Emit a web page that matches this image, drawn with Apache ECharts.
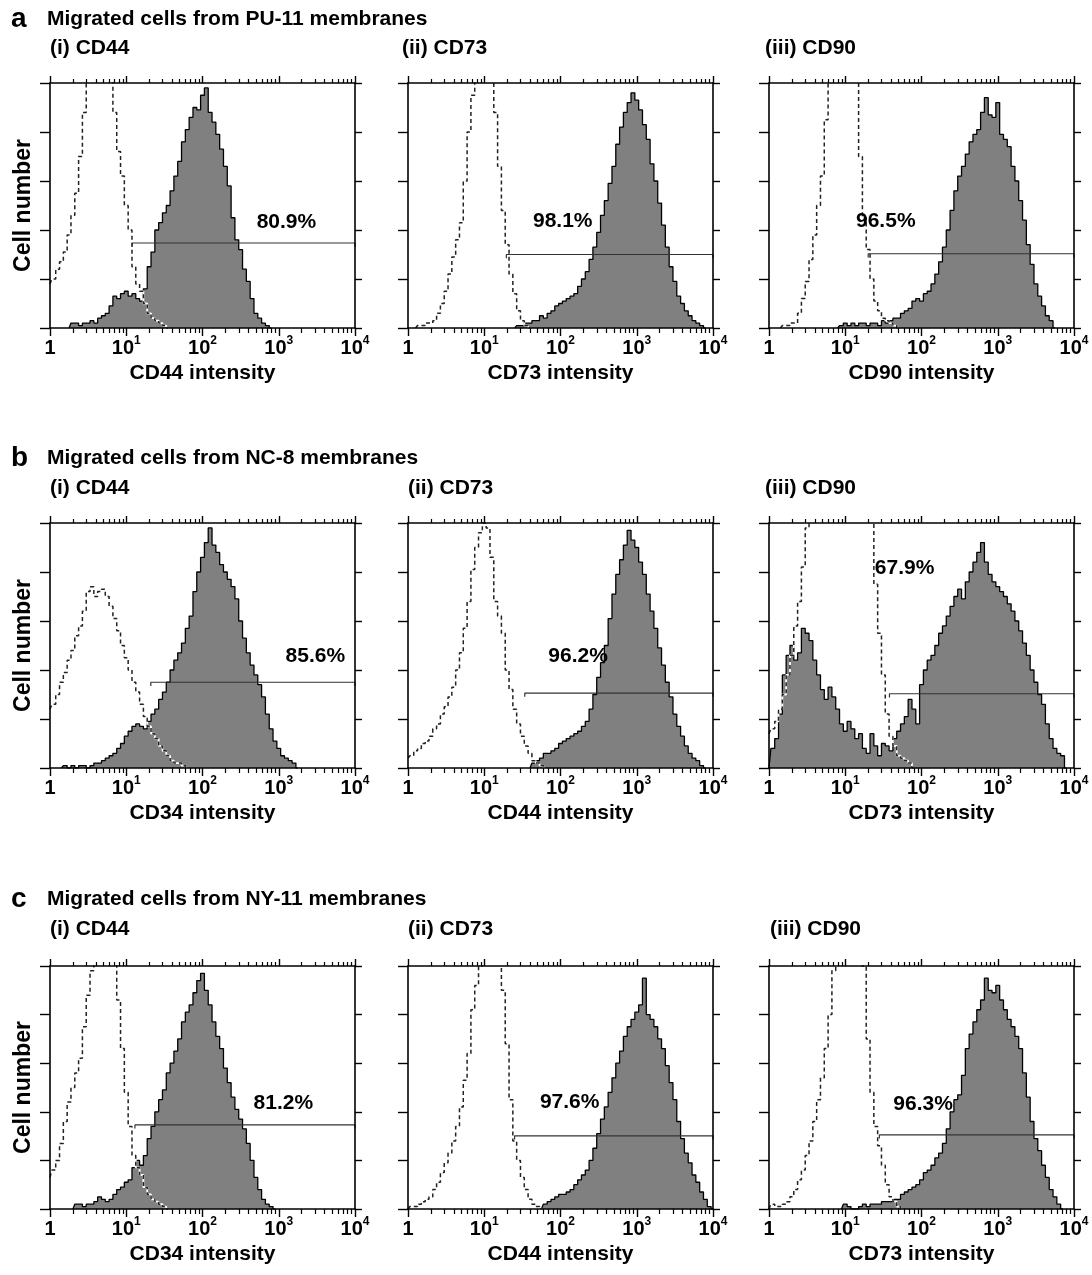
<!DOCTYPE html>
<html>
<head>
<meta charset="utf-8">
<script src="https://cdn.jsdelivr.net/npm/echarts@6/dist/echarts.min.js"></script>
<style>
html, body { margin: 0; background: #fff; }
#main { width: 1092px; height: 1275px; }
</style>
</head>
<body>
<div id="main"></div>
<script>
// histogram channels are 0.05 decade wide; each curve starts at the given exponent
var BIN = 0.05;

// a: PU-11
var puCD44 = [0,2,2,1,2,2,3,2,4,5,6,9,13,12,14,15,13,14,12,11,16,25,31,40,43,47,50,56,62,68,76,81,86,90,89,95,98,88,84,79,73,66,58,45,36,32,24,19,12,6,4,2,1,0];
var puCD44Start = 0.25;
var puCD44Iso = [18,20,24,27,31,38,46,55,70,88,105,130,130,130,130,125,108,88,72,62,50,40,25,18,15,10,6,4,3,2,1,0];
var puCD44IsoStart = 0;
var puCD73 = [0,1,1,2,2,3,3,5,4,6,7,9,10,11,12,13,14,17,20,23,28,33,39,46,52,59,66,75,82,88,92,96,93,89,83,77,67,60,51,42,33,25,19,13,10,7,5,3,2,1,0];
var puCD73Start = 1.40;
var puCD73Iso = [0,1,1,2,2,3,6,10,15,22,29,36,43,60,80,95,120,130,130,130,125,88,66,48,34,22,14,7,3,1,0];
var puCD73IsoStart = 0.10;
var puCD90 = [0,1,2,1,2,1,2,2,1,2,2,1,3,2,3,4,4,6,7,8,11,12,11,14,15,18,22,27,33,40,48,56,62,66,71,76,79,81,88,94,87,86,92,79,77,74,66,60,52,44,34,26,18,13,9,5,3,0];
var puCD90Start = 0.90;
var puCD90Iso = [0,1,1,2,2,6,12,19,28,38,50,62,85,110,130,130,130,130,130,130,110,70,45,32,20,11,7,4,3,2,1,0];
var puCD90IsoStart = 0.15;

// b: NC-8
var ncCD34 = [0,1,0,1,0,1,1,0,1,2,2,3,4,5,6,8,10,13,15,17,18,17,16,19,22,24,28,31,35,40,44,47,51,57,62,72,80,86,92,98,91,88,83,80,77,74,69,60,53,47,42,38,34,29,22,16,11,8,5,4,3,2,0];
var ncCD34Start = 0.15;
var ncCD34Iso = [24,26,30,35,39,44,48,54,58,64,72,74,70,72,73,70,66,61,56,50,45,40,35,31,26,21,17,14,12,9,7,5,3,2,2,1,0];
var ncCD34IsoStart = 0;
var ncCD44 = [0,2,3,4,6,6,7,8,10,11,12,13,14,15,17,19,24,30,37,43,50,61,71,79,85,91,97,93,90,84,79,71,64,57,49,42,35,29,22,17,13,9,6,4,3,1,0];
var ncCD44Start = 1.60;
var ncCD44Iso = [4,5,7,8,10,11,13,16,18,22,25,29,33,40,47,57,68,81,90,96,100,98,86,68,62,55,40,32,24,18,13,9,6,3,2,1,0];
var ncCD44IsoStart = 0;
var ncCD73 = [0,8,12,22,38,46,50,44,47,57,55,52,44,38,32,28,33,29,24,18,15,19,16,12,14,8,6,14,9,5,10,9,7,12,15,18,21,28,24,18,34,40,44,46,50,55,58,62,66,70,73,69,76,80,84,88,92,84,79,76,74,72,70,67,64,60,56,51,46,40,35,30,26,18,12,8,6,5,0];
var ncCD73Start = 0;
var ncCD73Iso = [14,16,19,24,30,38,46,58,68,82,98,130,130,130,130,130,130,130,130,130,130,130,130,130,130,130,130,110,75,55,38,22,13,9,5,4,3,2,0];
var ncCD73IsoStart = 0;

// c: NY-11
var nyCD34 = [0,2,2,1,2,2,3,5,4,3,4,6,8,9,11,12,17,20,18,22,29,34,40,45,49,56,60,65,70,77,81,84,89,94,97,90,84,77,71,66,58,52,46,41,37,33,27,20,13,8,4,2,1,0];
var nyCD34Start = 0.30;
var nyCD34Iso = [13,16,20,27,36,44,50,56,62,75,88,98,120,130,130,130,130,110,86,66,48,34,22,17,14,9,6,4,3,2,1,0];
var nyCD34IsoStart = 0;
var nyCD44 = [0,2,3,4,5,6,6,7,8,10,12,14,16,20,25,31,37,42,48,54,60,65,71,75,78,81,84,95,80,78,75,70,66,59,52,45,36,29,23,19,14,11,7,4,1,0];
var nyCD44Start = 1.75;
var nyCD44Iso = [0,1,1,2,3,4,5,8,11,15,19,23,28,34,42,53,64,82,92,100,130,130,130,130,120,90,68,45,28,20,13,8,4,2,1,0];
var nyCD44IsoStart = 0;
var nyCD73 = [0,2,1,0,0,1,2,1,2,2,2,3,3,3,4,4,6,7,8,9,10,12,15,16,18,21,23,27,33,40,45,47,55,66,72,77,82,86,95,90,89,92,86,82,78,75,71,66,56,46,36,29,24,18,13,8,5,2,0];
var nyCD73Start = 0.95;
var nyCD73Iso = [0,2,1,1,2,3,5,8,12,16,22,28,36,45,54,66,80,98,130,130,130,130,130,130,130,100,70,48,34,26,18,10,5,3,1,0];
var nyCD73IsoStart = 0;

var rowLetters = ['a', 'b', 'c'];
var rowTitles = ['Migrated cells from PU-11 membranes', 'Migrated cells from NC-8 membranes', 'Migrated cells from NY-11 membranes'];
var panelTitles = ['(i) CD44', '(ii) CD73', '(iii) CD90'];
var xNames = [
    ['CD44 intensity', 'CD73 intensity', 'CD90 intensity'],
    ['CD34 intensity', 'CD44 intensity', 'CD73 intensity'],
    ['CD34 intensity', 'CD44 intensity', 'CD73 intensity']
];
var percents = ['80.9%', '98.1%', '96.5%', '85.6%', '96.2%', '67.9%', '81.2%', '97.6%', '96.3%'];
var gateFrom = [12, 19.5, 20, 21, 34, 38, 13, 25, 28];
var gateLevel = [34.7, 30, 30.3, 35, 30.6, 30.3, 34.6, 30.1, 30.5];
var pctAtX = [1260, 107, 34, 3020, 170, 60, 1150, 132, 105];
var pctAtY = [43, 43.5, 43.5, 45.5, 45.5, 81.6, 43.5, 44, 43];
var decadeTicks = [1, 10, 100, 1000, 10000];
var minorTicks = [2,3,4,5,6,7,8,9,20,30,40,50,60,70,80,90,200,300,400,500,600,700,800,900,2000,3000,4000,5000,6000,7000,8000,9000];

var stained = [puCD44, puCD73, puCD90, ncCD34, ncCD44, ncCD73, nyCD34, nyCD44, nyCD73];
var stainedStart = [puCD44Start, puCD73Start, puCD90Start, ncCD34Start, ncCD44Start, ncCD73Start, nyCD34Start, nyCD44Start, nyCD73Start];
var isotype = [puCD44Iso, puCD73Iso, puCD90Iso, ncCD34Iso, ncCD44Iso, ncCD73Iso, nyCD34Iso, nyCD44Iso, nyCD73Iso];
var isotypeStart = [puCD44IsoStart, puCD73IsoStart, puCD90IsoStart, ncCD34IsoStart, ncCD44IsoStart, ncCD73IsoStart, nyCD34IsoStart, nyCD44IsoStart, nyCD73IsoStart];

var FONT = '"Liberation Sans", Arial, Helvetica, sans-serif';
var gridLeft = [50, 408, 769];
var gridTop = [83, 523, 966];
var gridH = [245, 245, 243];
var subX = [[50, 402, 765], [50, 408, 765], [50, 408, 770]];
var headY = [19, 458, 899];
var subY = [48, 488, 929];

function toPoints(counts, start) {
    return counts.map(function (c, i) {
        return [Math.pow(10, start + i * BIN), c];
    });
}

var grids = [], xAxes = [], yAxes = [], series = [], texts = [];

for (var g = 0; g < 9; g++) {
    var r = Math.floor(g / 3), c = g % 3;
    grids.push({ left: gridLeft[c], top: gridTop[r], width: 305, height: gridH[r] });

    var logBase = { type: 'log', logBase: 10, min: 1, max: 10000, gridIndex: g, splitLine: { show: false } };
    // bottom, decades with labels
    xAxes.push(Object.assign({}, logBase, {
        position: 'bottom', z: 5,
        name: xNames[r][c], nameLocation: 'middle', nameGap: 35,
        nameTextStyle: { fontFamily: FONT, fontWeight: 'bold', fontSize: 21, color: '#000' },
        axisLine: { lineStyle: { color: '#000', width: 1.6 } },
        axisTick: { customValues: decadeTicks, length: 8, lineStyle: { color: '#000', width: 1.4 } },
        axisLabel: {
            customValues: decadeTicks, margin: 7,
            formatter: function (v) {
                var e = Math.round(Math.log10(v));
                return e === 0 ? '{n|1}' : '{n|10}{s|' + e + '}';
            },
            rich: {
                n: { fontFamily: FONT, fontWeight: 'bold', fontSize: 20, color: '#000', lineHeight: 23, verticalAlign: 'bottom' },
                s: { fontFamily: FONT, fontWeight: 'bold', fontSize: 12, color: '#000', lineHeight: 23, verticalAlign: 'top' }
            }
        }
    }));
    // bottom, minor
    xAxes.push(Object.assign({}, logBase, {
        position: 'bottom', z: 5,
        axisLine: { show: false },
        axisTick: { customValues: minorTicks, length: 5, lineStyle: { color: '#000', width: 1.2 } },
        axisLabel: { show: false }
    }));
    // top, decades
    xAxes.push(Object.assign({}, logBase, {
        position: 'top', z: 5,
        axisLine: { lineStyle: { color: '#000', width: 1.6 } },
        axisTick: { customValues: decadeTicks, length: 7, lineStyle: { color: '#000', width: 1.4 } },
        axisLabel: { show: false }
    }));
    // top, minor
    xAxes.push(Object.assign({}, logBase, {
        position: 'top', z: 5,
        axisLine: { show: false },
        axisTick: { customValues: minorTicks, length: 4, lineStyle: { color: '#000', width: 1.2 } },
        axisLabel: { show: false }
    }));

    yAxes.push({
        type: 'value', gridIndex: g, position: 'left', min: 0, max: 100, interval: 20, z: 5,
        name: c === 0 ? 'Cell number' : '', nameLocation: 'middle', nameGap: 15,
        nameTextStyle: { fontFamily: FONT, fontWeight: 'bold', fontSize: 23, color: '#000' },
        axisLine: { show: true, lineStyle: { color: '#000', width: 1.6 } },
        axisTick: { show: true, length: 10, lineStyle: { color: '#000', width: 1.4 } },
        axisLabel: { show: false },
        splitLine: { show: false }
    });
    yAxes.push({
        type: 'value', gridIndex: g, position: 'right', min: 0, max: 100, interval: 20, z: 5,
        axisLine: { show: true, lineStyle: { color: '#000', width: 1.6 } },
        axisTick: { show: true, length: 7, lineStyle: { color: '#000', width: 1.4 } },
        axisLabel: { show: false },
        splitLine: { show: false }
    });

    var xi = g * 4, yi = g * 2;
    series.push({
        type: 'line', xAxisIndex: xi, yAxisIndex: yi, step: 'middle', symbol: 'none', z: 2,
        data: toPoints(stained[g], stainedStart[g]),
        lineStyle: { color: '#000', width: 1.3 },
        areaStyle: { color: '#808080', opacity: 1 }
    });
    var isoPts = toPoints(isotype[g], isotypeStart[g]);
    series.push({
        type: 'line', xAxisIndex: xi, yAxisIndex: yi, step: 'middle', symbol: 'none', z: 3,
        data: isoPts, lineStyle: { color: '#fff', width: 1.8 }
    });
    series.push({
        type: 'line', xAxisIndex: xi, yAxisIndex: yi, step: 'middle', symbol: 'none', z: 3,
        data: isoPts, lineStyle: { color: '#222', width: 1.5, type: [4, 3] }
    });
    series.push({
        type: 'line', xAxisIndex: xi, yAxisIndex: yi, symbol: 'none', z: 4,
        data: [[gateFrom[g], gateLevel[g] - 1.5], [gateFrom[g], gateLevel[g]], [10000, gateLevel[g]], [10000, gateLevel[g] - 1.5]],
        lineStyle: { color: '#333', width: 1.2 }
    });
    series.push({
        type: 'scatter', xAxisIndex: xi, yAxisIndex: yi, symbolSize: 0, z: 6, silent: true,
        data: [[pctAtX[g], pctAtY[g]]],
        itemStyle: { opacity: 1 },
        label: {
            show: true, position: 'inside', formatter: percents[g],
            fontFamily: FONT, fontWeight: 'bold', fontSize: 21, color: '#000', opacity: 1
        }
    });

    texts.push({
        type: 'text', x: subX[r][c], y: subY[r],
        style: { text: panelTitles[c], font: 'bold 21px ' + FONT, fill: '#000', verticalAlign: 'middle', textVerticalAlign: 'middle' }
    });
}

for (var r2 = 0; r2 < 3; r2++) {
    texts.push({
        type: 'text', x: 11, y: headY[r2],
        style: { text: rowLetters[r2], font: 'bold 28px ' + FONT, fill: '#000', verticalAlign: 'middle', textVerticalAlign: 'middle' }
    });
    texts.push({
        type: 'text', x: 47, y: headY[r2],
        style: { text: rowTitles[r2], font: 'bold 21px ' + FONT, fill: '#000', verticalAlign: 'middle', textVerticalAlign: 'middle' }
    });
}

var option = {
    animation: false,
    backgroundColor: '#fff',
    grid: grids,
    xAxis: xAxes,
    yAxis: yAxes,
    series: series,
    graphic: texts
};

echarts.init(document.getElementById('main')).setOption(option);
</script>
</body>
</html>
